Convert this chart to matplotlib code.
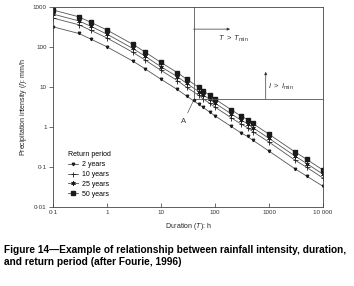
import matplotlib.pyplot as plt
from matplotlib.lines import Line2D

plt.rcParams['font.family'] = ['Liberation Sans', 'DejaVu Sans']
plt.rcParams['mathtext.fontset'] = 'custom'
plt.rcParams['mathtext.rm'] = 'Liberation Sans'
plt.rcParams['mathtext.it'] = 'Liberation Sans:italic'

# durations (h) and intensities (mm/h)
duration = [0.1, 0.3, 0.5, 1, 3, 5, 10, 20, 30, 50, 60, 80, 100, 200, 300,
            400, 500, 1000, 3000, 5000, 10000]
i_50yr = [840, 570, 415, 266, 117, 76, 41, 23, 15.6, 9.8, 8.1, 6.2, 5.0, 2.7,
          1.9, 1.53, 1.23, 0.66, 0.24, 0.155, 0.084]
i_25yr = [665, 450, 330, 210, 92, 60, 32, 18.2, 12.3, 7.7, 6.4, 4.9, 3.95,
          2.13, 1.5, 1.21, 0.97, 0.52, 0.19, 0.122, 0.066]
i_10yr = [530, 360, 262, 168, 74, 48, 26, 14.5, 9.8, 6.2, 5.1, 3.9, 3.15,
          1.7, 1.2, 0.96, 0.77, 0.42, 0.15, 0.098, 0.053]
i_2yr = [320, 218, 158, 101, 44.5, 28.9, 15.6, 8.7, 5.9, 3.7, 3.1, 2.36, 1.9,
         1.03, 0.72, 0.58, 0.47, 0.25, 0.091, 0.059, 0.033]

xticks = [0.1, 1, 10, 100, 1000, 10000]
xticklabels = ['0\u00b71', '1', '10', '100', '1000', '10 000']
yticks = [0.01, 0.1, 1, 10, 100, 1000]
yticklabels = ['0\u00b701', '0\u00b71', '1', '10', '100', '1000']

# threshold point A
t_min = 40
i_min = 5
a_point = (40, 4.6)

line_col = '#555555'
mk_col = '#1a1a1a'

fig = plt.figure(figsize=(3.54, 2.86), dpi=100)
ax = fig.add_axes([0.1497, 0.2762, 0.7627, 0.6993])

series = [
    ('2 years', i_2yr, dict(marker='v', ms=1.8)),
    ('10 years', i_10yr, dict(marker='+', ms=3.6, mew=0.6)),
    ('25 years', i_25yr, dict(marker=(6, 2, 0), ms=3.2, mew=0.5)),
    ('50 years', i_50yr, dict(marker='s', ms=3.4)),
]
handles = []
for name, vals, st in series:
    ax.plot(duration, vals, color=line_col, lw=0.6, mfc=mk_col, mec=mk_col, **st)
    handles.append(Line2D([], [], color=line_col, lw=0.6, mfc=mk_col, mec=mk_col,
                          label=name, **st))

ax.set_xscale('log')
ax.set_yscale('log')
ax.set_xlim(0.1, 10000)
ax.set_ylim(0.01, 1000)
ax.set_xticks(xticks)
ax.set_xticklabels(xticklabels)
ax.set_yticks(yticks)
ax.set_yticklabels(yticklabels)
ax.minorticks_off()
ax.tick_params(axis='x', direction='in', length=3, width=0.5, labelsize=4.5,
               pad=2.5, colors='#333333')
ax.tick_params(axis='y', direction='out', length=3, width=0.5, labelsize=4.5,
               pad=1.5, colors='#333333')
for s in ax.spines.values():
    s.set_linewidth(0.6)
    s.set_color('#444444')

ax.set_xlabel(r'Duration ($\mathit{T}$): h', fontsize=5, color='#222222',
              labelpad=4)
ax.set_ylabel(r'Precipitation intensity ($\mathit{I}$): mm/h', fontsize=5,
              color='#222222', labelpad=3)

# threshold rectangle
ax.plot([t_min, t_min, 10000], [1000, i_min, i_min], color='#555555', lw=0.6)
ax.annotate('', xy=(190, 280), xytext=(t_min, 280),
            arrowprops=dict(arrowstyle='-|>', lw=0.5, color='#333333',
                            mutation_scale=4, shrinkA=0, shrinkB=0))
ax.text(215, 158, r'$\mathit{T}\ >\ \mathit{T}_{\mathrm{min}}$', fontsize=5.5,
        ha='center', va='center', color='#333333')
ax.annotate('', xy=(870, 24), xytext=(870, i_min),
            arrowprops=dict(arrowstyle='-|>', lw=0.5, color='#333333',
                            mutation_scale=4, shrinkA=0, shrinkB=0))
ax.text(1650, 10.3, r'$\mathit{I}\ >\ \mathit{I}_{\mathrm{min}}$', fontsize=5.5,
        ha='center', va='center', color='#333333')

ax.plot(*a_point, marker='o', ms=1.5, color='#222222')
ax.annotate('A', xy=a_point, xytext=(26, 1.35), fontsize=5.5, ha='center',
            va='center', color='#333333',
            arrowprops=dict(arrowstyle='-', lw=0.4, color='#333333',
                            shrinkA=2, shrinkB=0))

leg = ax.legend(handles=handles, title='Return period', loc='upper left',
                bbox_to_anchor=(65 / 354, 1 - 148 / 286),
                bbox_transform=fig.transFigure, frameon=False, fontsize=5,
                title_fontsize=5, handlelength=1.3, handletextpad=0.6,
                labelspacing=0.4, borderpad=0, alignment='left')

fig.text(0.01, 1 - 256 / 286,
         'Figure 14\u2014Example of relationship between rainfall intensity, duration,\n'
         'and return period (after Fourie, 1996)',
         fontsize=7.3, fontweight='bold', va='center', ha='left',
         linespacing=1.2)

fig.savefig('out.png', dpi=100)
